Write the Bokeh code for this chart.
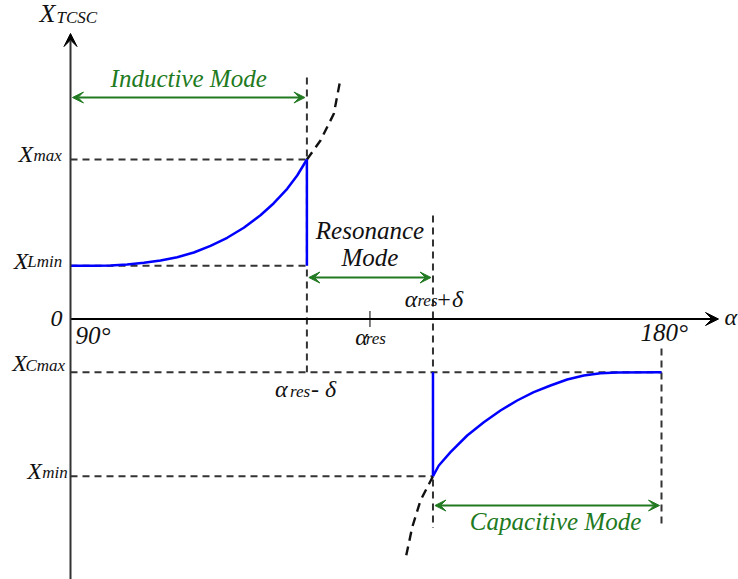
from bokeh.plotting import figure
from bokeh.models import Arrow, VeeHead, Range1d
from bokeh.core.properties import value
from bokeh.embed import file_html
from bokeh.resources import INLINE

# ---------------- data (schematic values) ----------------
alpha_start = 90.0      # degrees
alpha_end = 180.0
alpha_res = 135.6
delta = 9.6
X_Lmin = 0.532
X_max = 1.595
X_Cmax = -0.532
X_min = -1.572

# inductive branch (blue)
ind_alpha = [90.0, 93.55, 96.09, 98.63, 101.17, 103.71, 106.25, 108.78, 111.32,
             113.86, 116.39, 118.93, 120.96, 123.0, 124.52, 126.0]
ind_x = [0.532, 0.532, 0.535, 0.545, 0.562, 0.585, 0.618, 0.665, 0.732,
         0.812, 0.912, 1.038, 1.158, 1.302, 1.435, 1.595]
# continuation of inductive branch (dashed)
ind_ext_alpha = [126.0, 128.07, 130.1, 131.12]
ind_ext_x = [1.595, 1.785, 2.052, 2.402]
# capacitive branch (blue)
cap_alpha = [145.2, 146.09, 147.87, 150.41, 152.94, 155.48, 158.02, 160.55, 163.1,
             165.64, 168.17, 170.71, 173.25, 180.0]
cap_x = [-1.572, -1.465, -1.332, -1.165, -1.032, -0.915, -0.815, -0.732, -0.665,
         -0.605, -0.565, -0.542, -0.535, -0.532]
# continuation of capacitive branch (dashed)
cap_ext_alpha = [145.2, 143.3, 142.04, 141.02]
cap_ext_x = [-1.572, -1.815, -2.082, -2.398]

# ---------------- layout ----------------
W, H = 738, 579
SX = 591.0 / 90.0       # px per degree
SY = 100.0              # px per unit
x0 = alpha_start - 70.0 / SX
x1 = x0 + W / SX
y1 = 318.5 / SY
y0 = y1 - H / SY

FONT = "Liberation Serif"
TXT = "#111111"
GREEN = "#217a21"
BLUE = "#0000ff"
DASH = "#333333"

p = figure(width=W, height=H, x_range=Range1d(x0, x1), y_range=Range1d(y0, y1),
           output_backend="svg", toolbar_location=None, min_border=0,
           x_axis_location=None, y_axis_location=None)
p.grid.visible = False
p.outline_line_color = None
p.background_fill_color = "white"
p.border_fill_color = "white"

a_lo = alpha_res - delta
a_hi = alpha_res + delta

# dashed guide lines (horizontal)
p.segment(x0=[alpha_start] * 4, y0=[X_max, X_Lmin, X_Cmax, X_min],
          x1=[a_lo, a_lo, alpha_end, a_hi], y1=[X_max, X_Lmin, X_Cmax, X_min],
          line_color=DASH, line_width=2, line_dash="7 5")
# dashed guide lines (vertical)
guide_top_lo = 2.415
guide_top_hi = 1.035
guide_top_end = -0.295
guide_bot = -2.09
p.segment(x0=[a_lo, a_hi, alpha_end], y0=[guide_top_lo, guide_top_hi, guide_top_end],
          x1=[a_lo, a_hi, alpha_end], y1=[X_Cmax, guide_bot, guide_bot],
          line_color=DASH, line_width=2, line_dash="7 5")

# dashed continuation curves
p.line(ind_ext_alpha, ind_ext_x, line_color="#111111", line_width=2.4, line_dash="9 6")
p.line(cap_ext_alpha, cap_ext_x, line_color="#111111", line_width=2.4, line_dash="9 6")

# blue characteristic
p.line(ind_alpha, ind_x, line_color=BLUE, line_width=2.5)
p.line(cap_alpha, cap_x, line_color=BLUE, line_width=2.5)
p.segment(x0=[a_lo, a_hi], y0=[X_Lmin, X_Cmax], x1=[a_lo, a_hi], y1=[X_max, X_min],
          line_color=BLUE, line_width=2.5)

# alpha_res tick
tick = 0.08
p.segment(x0=[alpha_res], y0=[tick], x1=[alpha_res], y1=[-tick], line_color="#555555", line_width=1.5)

# axes with arrows
x_axis_end = alpha_start + 648.0 / SX
y_axis_end = 2.855
p.add_layout(Arrow(end=VeeHead(size=13, fill_color="black", line_color="black"),
                   x_start=alpha_start, y_start=0, x_end=x_axis_end, y_end=0,
                   line_color="black", line_width=2))
p.add_layout(Arrow(end=VeeHead(size=13, fill_color="black", line_color="black"),
                   x_start=alpha_start, y_start=y0, x_end=alpha_start, y_end=y_axis_end,
                   line_color="#333333", line_width=2))

# green mode arrows
lvl_ind, lvl_res, lvl_cap = 2.215, 0.415, -1.865
gap = 0.3
for xa, xb, lv in [(alpha_start, a_lo, lvl_ind), (a_lo, a_hi, lvl_res), (a_hi, alpha_end, lvl_cap)]:
    p.add_layout(Arrow(start=VeeHead(size=11, fill_color=GREEN, line_color=GREEN),
                       end=VeeHead(size=11, fill_color=GREEN, line_color=GREEN),
                       x_start=xa + gap, y_start=lv, x_end=xb - gap, y_end=lv,
                       line_color=GREEN, line_width=2))

DY = -8  # baseline correction


def put(x, y, s, dx, dy, size, color=TXT, align="left"):
    p.text(x=[x], y=[y], text=[s], x_offset=dx, y_offset=dy + DY,
           text_font=value(FONT), text_font_size=f"{size}px", text_font_style="italic",
           text_align=align, text_baseline="alphabetic", text_color=color)


MAIN, SUB = 24, 17
# y-axis name
put(alpha_start, y_axis_end, "X", -31, -12, 26)
put(alpha_start, y_axis_end, "TCSC", -14, -8, 17)
# level labels
for lv, sub, dxm, dym, dxs, dys in [(X_max, "max", -52, 2, -37, 4),
                                    (X_Lmin, "Lmin", -56.7, 3, -43.3, 4),
                                    (X_Cmax, "Cmax", -58.3, -1, -45, 1),
                                    (X_min, "min", -43.3, 2.6, -28.3, 4.5)]:
    put(alpha_start, lv, "X", dxm, dym, MAIN)
    put(alpha_start, lv, sub, dxs, dys, SUB)
put(alpha_start, 0, "0", -8, 7, 24, align="right")
put(alpha_start, 0, "90°", 5, 24.5, 25)
put(alpha_end, 0, "180°", -21, 21.5, 25)
put(x_axis_end, 0, "α", 6, 6, MAIN)
# alpha_res
put(alpha_res, 0, "α", -14.8, 25.5, MAIN)
put(alpha_res, 0, "res", -4.2, 27.5, SUB)
# alpha_res + delta
put(a_hi, 0, "α", -28.3, -12.5, MAIN)
put(a_hi, 0, "res", -15.6, -10.5, SUB)
put(a_hi, 0, "+δ", 2.7, -12.5, MAIN)
# alpha_res - delta
put(a_lo, X_Cmax, "α", -31.9, 25, MAIN)
put(a_lo, X_Cmax, "res", -16.9, 27, SUB)
put(a_lo, X_Cmax, "- δ", 4, 25, MAIN)

# mode labels
put((alpha_start + a_lo) / 2, lvl_ind, "Inductive Mode", 0, -11, 25, color=GREEN, align="center")
put((a_lo + a_hi) / 2, lvl_res, "Resonance", 0, -38.7, 25, align="center")
put((a_lo + a_hi) / 2, lvl_res, "Mode", 0, -12, 25, align="center")
put((a_hi + alpha_end) / 2, lvl_cap, "Capacitive Mode", 8.3, 24.3, 25, color=GREEN, align="center")

open("out.html", "w").write(file_html(p, INLINE))
